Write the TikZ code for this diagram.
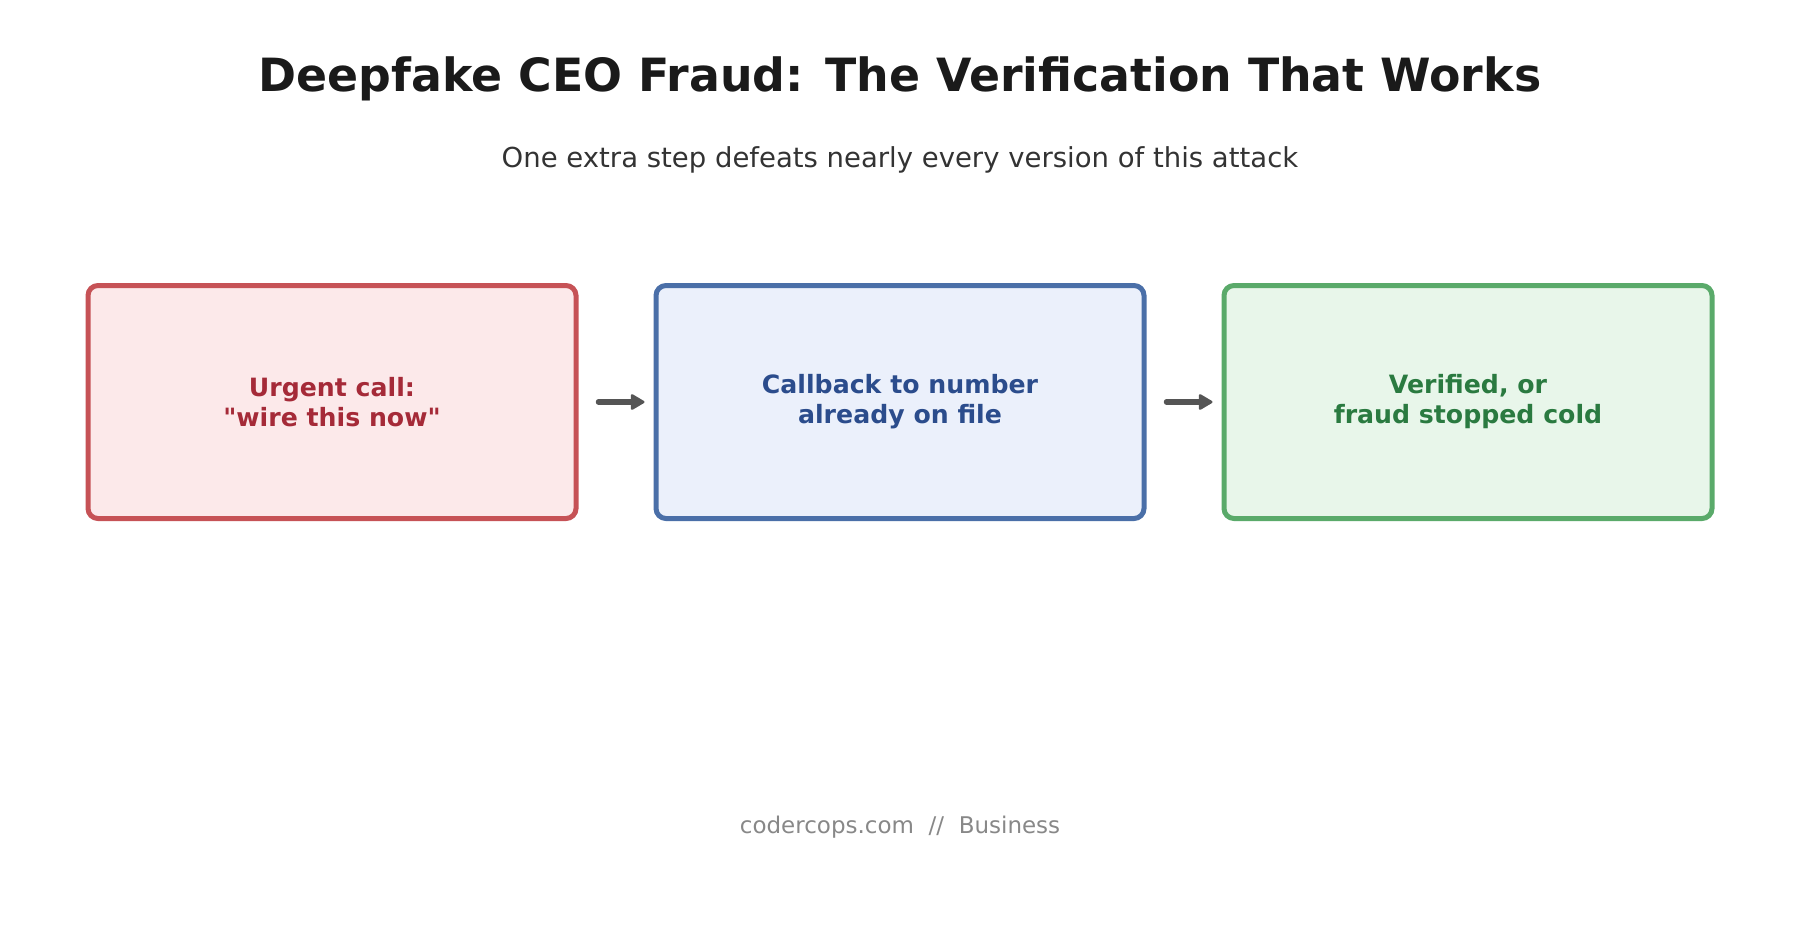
\documentclass[tikz,border=0pt]{standalone}
\usepackage{fontspec}
\setmainfont{DejaVu Sans}[Ligatures=TeXOff]
\usetikzlibrary{arrows.meta}
\definecolor{redB}{HTML}{C65256}
\definecolor{redF}{HTML}{FCE9EA}
\definecolor{redT}{HTML}{A52A38}
\definecolor{bluB}{HTML}{4A6FA8}
\definecolor{bluF}{HTML}{EBF0FB}
\definecolor{bluT}{HTML}{2B4C8C}
\definecolor{grnB}{HTML}{5AAA6A}
\definecolor{grnF}{HTML}{E8F6EA}
\definecolor{grnT}{HTML}{2A7A40}
\definecolor{arr}{HTML}{555555}
\definecolor{ttl}{HTML}{1A1A1A}
\definecolor{sub}{HTML}{333333}
\definecolor{foot}{HTML}{888888}
\tikzset{
  stagebox/.style={draw, line width=5pt, rounded corners=10pt, minimum width=488pt, minimum height=233pt,
    align=center, font=\bfseries\fontsize{25.2}{30}\selectfont, inner sep=0pt},
  flowarrow/.style={draw=arr, line width=5.5pt, line cap=round, -{Triangle[length=15pt,width=17pt,round,line width=2.5pt]}}
}
\begin{document}
\begin{tikzpicture}[x=1pt,y=-1pt]
\useasboundingbox (0,0) rectangle (1800,945);
\node[font=\bfseries\fontsize{45.8}{56}\selectfont, text=ttl] (title) at (900,78.5) {Deepfake CEO Fraud: The Verification That Works};
\node[font=\fontsize{27.5}{32}\selectfont, text=sub] (subtitle) at (900,160) {One extra step defeats nearly every version of this attack};
\node[stagebox, draw=redB, fill=redF, text=redT] (a) at (332,402) {Urgent call:\\"wire this now"};
\node[stagebox, draw=bluB, fill=bluF, text=bluT] (b) at (900,402) {Callback to number\\already on file};
\node[stagebox, draw=grnB, fill=grnF, text=grnT] (c) at (1468,402) {Verified, or\\fraud stopped cold};
\draw[flowarrow] ([xshift=20pt]a.east) -- ([xshift=-9pt]b.west);
\draw[flowarrow] ([xshift=20pt]b.east) -- ([xshift=-9pt]c.west);
\node[font=\fontsize{23}{28}\selectfont, text=foot] (footer) at (900,827) {codercops.com\ \ //\ \ Business};
\end{tikzpicture}
\end{document}
